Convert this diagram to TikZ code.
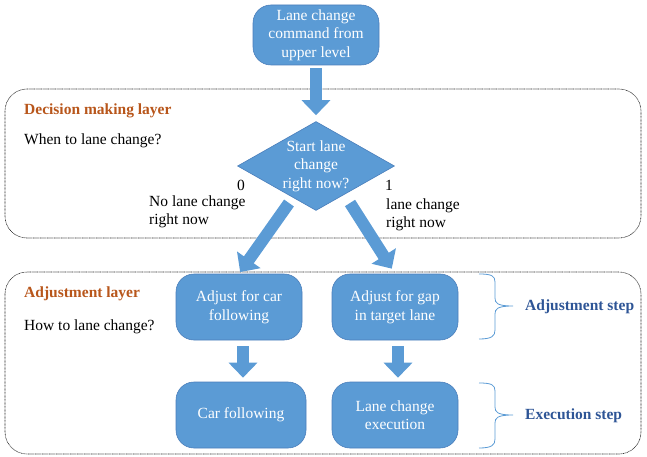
\documentclass[tikz,border=0pt]{standalone}
\usepackage{fontspec}
\setmainfont{Liberation Serif}
\usetikzlibrary{shapes.geometric,arrows.meta}
\definecolor{boxblue}{HTML}{5B9BD5}
\definecolor{boxedge}{HTML}{4A7EBB}
\definecolor{layerbrown}{HTML}{B8561B}
\definecolor{stepblue}{HTML}{2E5596}
\begin{document}
\begin{tikzpicture}[x=1pt, y=-1pt,
    every node/.style={font=\fontsize{15.5}{18.5}\selectfont},
    stepbox/.style={rectangle, rounded corners=18pt, draw=boxedge, line width=0.6pt, fill=boxblue, text=white, align=center, minimum width=126pt, minimum height=66pt, inner sep=0pt},
    layerbox/.style={draw=black!85, line width=0.6pt, dash pattern=on 0.8pt off 0.6pt, rounded corners=22pt},
    blockarrow/.style={draw=boxblue, line width=12pt, -{Triangle[width=28pt,length=15pt]}},
    layertitle/.style={anchor=west, inner sep=0pt, text=layerbrown, font=\fontsize{15.5}{18.5}\selectfont\bfseries},
    plain/.style={anchor=west, inner sep=0pt, align=left},
    stepbrace/.style={draw=boxblue, line width=0.8pt},
    steplabel/.style={anchor=west, inner sep=0pt, text=stepblue, font=\fontsize{15.5}{18.5}\selectfont\bfseries}]
    \useasboundingbox (0,0) rectangle (647,457);

    % layers
    \draw[layerbox] (5,89) rectangle (641,238);
    \draw[layerbox] (5,272) rectangle (641,454);
    \node[layertitle] (declayer) at (24,111) {Decision making layer};
    \node[plain] (when) at (24,141) {When to lane change?};
    \node[layertitle] (adjlayer) at (24,294) {Adjustment layer};
    \node[plain] (how) at (24,327) {How to lane change?};

    % flow
    \node[stepbox, minimum height=60pt] (cmd) at (316,35) {Lane change\\command from\\upper level};
    \node[diamond, fill=boxblue, draw=boxedge, line width=0.6pt, text=white, align=center, aspect=1.76, inner sep=-5pt, minimum width=157pt, minimum height=89pt] (start) at (316,166) {Start lane\\change\\right now?};
    \node[stepbox] (adjcar) at (239,307) {Adjust for car\\following};
    \node[stepbox] (adjgap) at (395,307) {Adjust for gap\\in target lane};
    \node[stepbox, minimum width=130pt] (carfol) at (241,415) {Car following};
    \node[stepbox] (lcexec) at (395,415) {Lane change\\execution};

    \node[anchor=east, inner sep=0pt] (zero) at (245,185) {0};
    \node[plain] (nolc) at (149,212) {No lane change\\right now};
    \node[plain] (one) at (385,185) {1};
    \node[plain] (yeslc) at (386,215) {lane change\\right now};

    \coordinate (n0) at (289,203);
    \coordinate (n1) at (350,203);
    \draw[blockarrow, shorten <=3pt, shorten >=6pt] (cmd.south) -- (start.north);
    \draw[blockarrow, shorten >=2pt] (n0) -- (adjcar.north);
    \draw[blockarrow, shorten >=6pt] (n1) -- (adjgap.north);
    \draw[blockarrow, shorten <=6pt, shorten >=4pt] ([xshift=4pt]adjcar.south) -- ([xshift=2pt]carfol.north);
    \draw[blockarrow, shorten <=6pt, shorten >=4pt] ([xshift=3pt]adjgap.south) -- ([xshift=3pt]lcexec.north);

    % steps
    \foreach \m in {306,415}
        \draw[stepbrace, shift={(0,\m)}] (479,-32) .. controls (492,-32) and (495,-30) .. (495,-24) -- (495,-8)
            .. controls (495,-3) and (497,0) .. (513,0) .. controls (497,0) and (495,3) .. (495,8) -- (495,24)
            .. controls (495,30) and (492,33) .. (479,33);
    \node[steplabel] (adjstep) at (525,307) {Adjustment step};
    \node[steplabel] (exestep) at (525,416) {Execution step};
\end{tikzpicture}
\end{document}
